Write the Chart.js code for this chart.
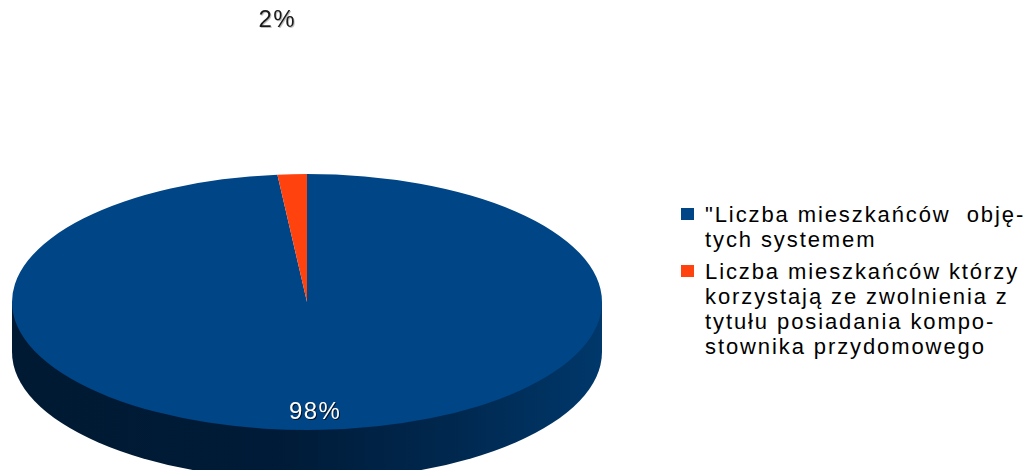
<!DOCTYPE html>
<html>
<head>
<meta charset="utf-8">
<script src="https://cdn.jsdelivr.net/npm/chart.js@4/dist/chart.umd.min.js"></script>
<style>
  html, body { margin: 0; padding: 0; background: #fff; }
  body { width: 1029px; height: 470px; position: relative; overflow: hidden; }
  #wrap { position: absolute; left: 0; top: 0; width: 614px; height: 470px; }
  .item { position: absolute; left: 681px; }
  .swatch { position: absolute; left: 0; width: 13px; height: 12px; }
  .text {
    position: absolute; left: 24px; white-space: nowrap;
    font-family: "Liberation Sans", Arial, sans-serif; font-size: 22px;
    line-height: 25px; letter-spacing: 1.9px; color: #000;
  }
</style>
</head>
<body>
<div id="wrap"><canvas id="chart"></canvas></div>
<div id="legend"></div>
<script>
const categories = [
  ['"Liczba mieszkańców  obję-', 'tych systemem'],
  ['Liczba mieszkańców którzy', 'korzystają ze zwolnienia z', 'tytułu posiadania kompo-', 'stownika przydomowego']
];
const values = [98.4, 1.6];
const colors = ['#004586', '#ff420e'];

const total = values.reduce((a, b) => a + b, 0);
const valueLabels = values.map(v => Math.round(v / total * 100) + '%');

// shape of the tilted pie (screen px)
const TOP_RX = 295, TOP_RY = 128, DEPTH = 50;
// label distance from centre, as [x, y] fractions of the radius
const LABEL_DIST = [[0.55, 0.86], [2.0, 2.2]];
const LABEL_COLORS = ['#ffffff', '#1a1a1a'];

const pie3d = {
  id: 'pie3d',
  beforeDatasetDraw(chart) {
    const ctx = chart.ctx;
    const arc = chart.getDatasetMeta(0).data[0];
    const x = arc.x, y = arc.y, r = arc.outerRadius;
    const sx = TOP_RX / r, sy = TOP_RY / r;
    const d = DEPTH / sy;
    ctx.save();
    ctx.translate(x, y);
    ctx.scale(sx, sy);
    ctx.translate(-x, -y);
    // side wall of the disc
    const g = ctx.createLinearGradient(x - r, 0, x + r, 0);
    g.addColorStop(0, '#001a33');
    g.addColorStop(0.45, '#001b37');
    g.addColorStop(0.75, '#00284f');
    g.addColorStop(1, '#00386b');
    ctx.fillStyle = g;
    ctx.beginPath();
    ctx.moveTo(x - r, y);
    ctx.lineTo(x - r, y + d);
    ctx.arc(x, y + d, r, Math.PI, 0, true);
    ctx.lineTo(x + r, y);
    ctx.closePath();
    ctx.fill();
  },
  afterDatasetDraw(chart) {
    const ctx = chart.ctx;
    ctx.restore();
    const meta = chart.getDatasetMeta(0);
    const r = meta.data[0].outerRadius;
    const sx = TOP_RX / r, sy = TOP_RY / r;
    ctx.save();
    ctx.font = '24px "Liberation Sans", Arial, sans-serif';
    ctx.letterSpacing = '1.5px';
    ctx.textAlign = 'center';
    ctx.textBaseline = 'middle';
    meta.data.forEach((arc, i) => {
      const mid = (arc.startAngle + arc.endAngle) / 2;
      const px = arc.x + Math.cos(mid) * r * LABEL_DIST[i][0] * sx;
      const py = arc.y + Math.sin(mid) * r * LABEL_DIST[i][1] * sy;
      ctx.fillStyle = i === 0 ? 'rgba(0,0,0,0.7)' : 'rgba(0,0,0,0.25)';
      ctx.fillText(valueLabels[i], px + 1, py + 1);
      ctx.fillStyle = LABEL_COLORS[i];
      ctx.fillText(valueLabels[i], px, py);
    });
    ctx.restore();
  }
};

new Chart(document.getElementById('chart'), {
  type: 'pie',
  data: {
    labels: categories,
    datasets: [{
      data: values,
      backgroundColor: colors,
      borderWidth: 0,
      clip: false
    }]
  },
  options: {
    responsive: true,
    maintainAspectRatio: false,
    animation: false,
    layout: { padding: { top: 134 } },
    plugins: {
      legend: { display: false },
      tooltip: { enabled: false }
    }
  },
  plugins: [pie3d]
});

// legend as text
const legend = document.getElementById('legend');
const tops = [202, 259];
categories.forEach((lines, i) => {
  const item = document.createElement('div');
  item.className = 'item';
  item.style.top = tops[i] + 'px';
  const sw = document.createElement('div');
  sw.className = 'swatch';
  sw.style.background = colors[i];
  sw.style.top = '6px';
  const txt = document.createElement('div');
  txt.className = 'text';
  txt.innerHTML = lines.map(l => l.replace(/  /g, ' &nbsp;')).join('<br>');
  item.appendChild(sw);
  item.appendChild(txt);
  legend.appendChild(item);
});
</script>
</body>
</html>
